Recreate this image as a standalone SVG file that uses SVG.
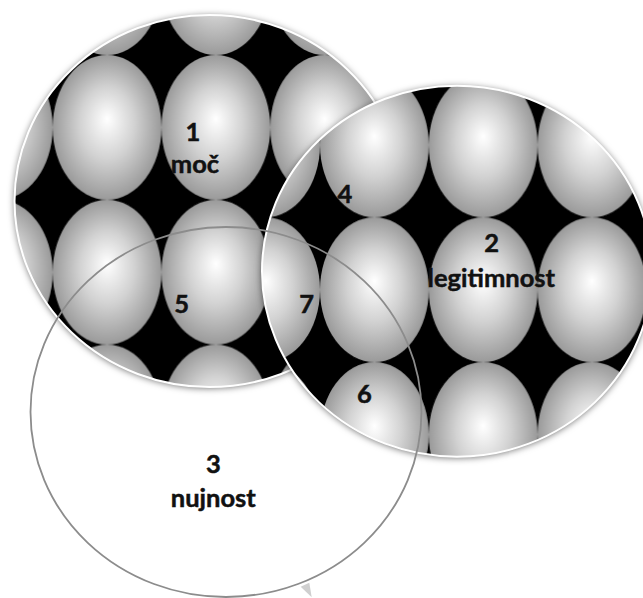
<svg xmlns="http://www.w3.org/2000/svg" width="643" height="598" viewBox="0 0 643 598">
  <defs>
    <style>
      .lbl { font-family: "Lato", "Liberation Sans", sans-serif; font-weight: bold; font-size: 25.5px; fill: #111; stroke: #111; stroke-width: 0.5px; text-anchor: middle; }
      .rim { fill: none; stroke: #ffffff; stroke-width: 2; }
      .ring3 { fill: none; stroke: #8c8c8c; stroke-width: 1.8; }
    </style>
    <radialGradient id="egg" cx="50%" cy="50%" r="50%" fx="50%" fy="44%">
      <stop offset="0" stop-color="#ffffff"/>
      <stop offset="0.5" stop-color="#d2d2d2"/>
      <stop offset="1" stop-color="#9a9a9a"/>
    </radialGradient>
    <pattern id="pat1" patternUnits="userSpaceOnUse" x="52.7" y="55" width="108.8" height="144.8">
      <rect width="108.8" height="144.8" fill="#000"/>
      <ellipse cx="54.4" cy="72.4" rx="54.4" ry="72.4" fill="url(#egg)"/>
    </pattern>
    <pattern id="pat2" patternUnits="userSpaceOnUse" x="320" y="217.3" width="108.8" height="144.8">
      <rect width="108.8" height="144.8" fill="#000"/>
      <ellipse cx="54.4" cy="72.4" rx="54.4" ry="72.4" fill="url(#egg)"/>
    </pattern>
    <filter id="shadow" x="-10%" y="-10%" width="120%" height="120%">
      <feGaussianBlur in="SourceAlpha" stdDeviation="3.5"/>
      <feOffset dy="1" result="b"/>
      <feFlood flood-color="#000" flood-opacity="0.6"/>
      <feComposite in2="b" operator="in" result="s"/>
      <feMerge>
        <feMergeNode in="s"/>
        <feMergeNode in="SourceGraphic"/>
      </feMerge>
    </filter>
    <filter id="soft" x="-5%" y="-5%" width="110%" height="110%">
      <feGaussianBlur stdDeviation="0.4"/>
    </filter>
  </defs>

  <g id="node-1">
    <ellipse cx="209.5" cy="201" rx="195" ry="186" fill="url(#pat1)" filter="url(#shadow)"/>
    <ellipse class="rim" cx="209.5" cy="201" rx="195" ry="186"/>
  </g>

  <g id="node-2">
    <ellipse cx="457" cy="271.2" rx="195" ry="185.5" fill="url(#pat2)" filter="url(#shadow)"/>
    <ellipse class="rim" cx="457" cy="271.2" rx="195" ry="185.5"/>
  </g>

  <g id="node-3">
    <ellipse class="ring3" cx="226" cy="412" rx="195.5" ry="185" filter="url(#soft)"/>
    <polygon points="300.7,586.7 309.3,582.7 311.7,597.3" fill="#cfcfcf"/>
  </g>

  <g id="connectors"/>

  <g id="labels">
    <text class="lbl" x="193" y="140.7">1</text>
    <text class="lbl" x="195" y="173">moč</text>
    <text class="lbl" x="491.7" y="251.7">2</text>
    <text class="lbl" x="491.3" y="286.7">legitimnost</text>
    <text class="lbl" x="213.3" y="473.3">3</text>
    <text class="lbl" x="213.3" y="506.7">nujnost</text>
  </g>

  <g id="overlap-labels">
    <text class="lbl" x="345" y="203.3">4</text>
    <text class="lbl" x="181.7" y="313">5</text>
    <text class="lbl" x="364.3" y="402.7">6</text>
    <text class="lbl" x="306.7" y="313">7</text>
  </g>
</svg>
